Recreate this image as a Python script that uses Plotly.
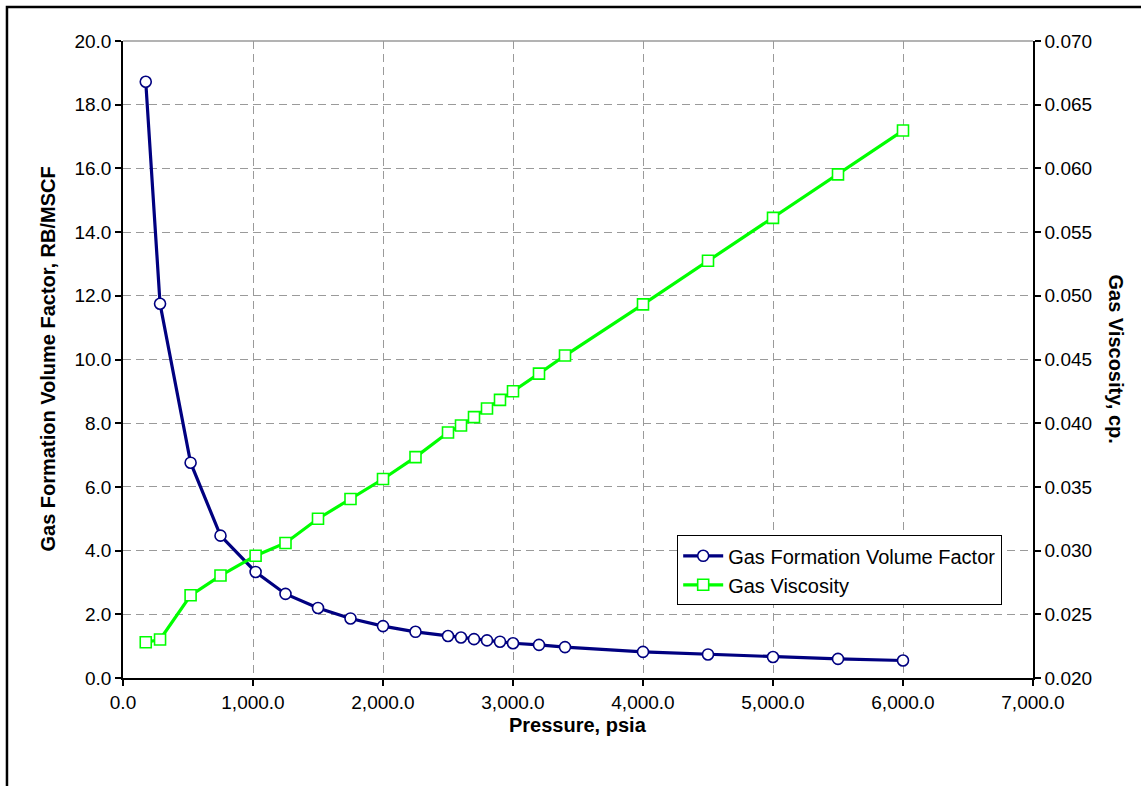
import plotly.graph_objects as go

pressure = [175, 285, 520, 750, 1020, 1250, 1500, 1750, 2000, 2250, 2500, 2600,
            2700, 2800, 2900, 3000, 3200, 3400, 4000, 4500, 5000, 5500, 6000]
gas_fvf = [18.72, 11.75, 6.76, 4.47, 3.33, 2.64, 2.20, 1.87, 1.63, 1.45, 1.32, 1.27,
           1.22, 1.18, 1.14, 1.09, 1.04, 0.97, 0.82, 0.74, 0.66, 0.60, 0.55]
gas_visc = [0.02281, 0.02302, 0.02649, 0.02804, 0.02960, 0.03060, 0.03250, 0.03405,
            0.03562, 0.03734, 0.03927, 0.03982, 0.04048, 0.04115, 0.04183, 0.04251,
            0.04389, 0.04531, 0.04933, 0.05275, 0.05612, 0.05953, 0.06297]

x_ticks = [0, 1000, 2000, 3000, 4000, 5000, 6000, 7000]
y_ticks = [0, 2, 4, 6, 8, 10, 12, 14, 16, 18, 20]
y2_ticks = [0.020, 0.025, 0.030, 0.035, 0.040, 0.045, 0.050, 0.055, 0.060, 0.065, 0.070]

FONT = "Arial, Liberation Sans, sans-serif"
NAVY = "#000080"
GREEN = "#00FF00"
GRID = "#9a9a9a"

fig = go.Figure()
fig.add_trace(go.Scatter(
    x=pressure, y=gas_fvf, name="Gas Formation Volume Factor",
    mode="lines+markers", legendgroup="a",
    line=dict(color=NAVY, width=3.2),
    marker=dict(symbol="circle", size=11, color="white", line=dict(color=NAVY, width=1.6)),
))
fig.add_trace(go.Scatter(
    x=pressure, y=gas_visc, name="Gas Viscosity", yaxis="y2",
    mode="lines+markers", legendgroup="b",
    line=dict(color=GREEN, width=3.2),
    marker=dict(symbol="square", size=11, color="white", line=dict(color=GREEN, width=1.6)),
))

tickfont = dict(family=FONT, size=19, color="black")
titlefont = dict(family=FONT, size=20, color="black", weight="bold")

fig.update_layout(
    width=1141, height=786,
    margin=dict(l=123, r=108, t=41, b=108),
    paper_bgcolor="white", plot_bgcolor="white",
    font=dict(family=FONT, size=19, color="black"),
    showlegend=True,
    legend=dict(x=0.609, y=0.224, xanchor="left", yanchor="top",
                bordercolor="black", borderwidth=1, bgcolor="white",
                font=dict(family=FONT, size=20, color="black"),
                tracegroupgap=0, itemwidth=40),
    xaxis=dict(range=[0, 7000], tickvals=x_ticks, tickformat=",.1f",
               showgrid=True, gridcolor=GRID, griddash="8px,5px", gridwidth=1,
               showline=True, linecolor="black", linewidth=1.5,
               ticks="outside", ticklen=6, tickcolor="black", tickwidth=1.5,
               tickfont=tickfont, zeroline=False),
    yaxis=dict(range=[0, 20], tickvals=y_ticks, tickformat=".1f",
               showgrid=True, gridcolor=GRID, griddash="8px,5px", gridwidth=1,
               showline=True, linecolor="black", linewidth=1.5,
               ticks="outside", ticklen=6, tickcolor="black", tickwidth=1.5,
               tickfont=tickfont, zeroline=False),
    yaxis2=dict(range=[0.020, 0.070], tickvals=y2_ticks, tickformat=".3f",
                overlaying="y", side="right", showgrid=False,
                showline=True, linecolor="black", linewidth=1.5,
                ticks="outside", ticklen=6, tickcolor="black", tickwidth=1.5,
                tickfont=tickfont, zeroline=False),
    shapes=[
        dict(type="line", xref="paper", yref="paper", x0=0, x1=1, y0=1, y1=1,
             line=dict(color="#9a9a9a", width=1.5)),
        dict(type="rect", xref="paper", yref="paper", x0=-0.1275, x1=1.16,
             y0=-0.2, y1=1.0534, line=dict(color="black", width=2.5)),
    ],
    annotations=[
        dict(text="Pressure, psia", xref="paper", yref="paper", x=0.5, y=-0.0745,
             xanchor="center", yanchor="middle", showarrow=False, font=titlefont),
        dict(text="Gas Formation Volume Factor, RB/MSCF", xref="paper", yref="paper",
             x=-0.0835, y=0.5, xanchor="center", yanchor="middle", textangle=-90,
             showarrow=False, font=titlefont),
        dict(text="Gas Viscosity, cp.", xref="paper", yref="paper",
             x=1.0923, y=0.5, xanchor="center", yanchor="middle", textangle=90,
             showarrow=False, font=titlefont),
    ],
)

fig.write_html("out.html", config={"displayModeBar": False},
               post_script="document.body.style.margin='0px';")
